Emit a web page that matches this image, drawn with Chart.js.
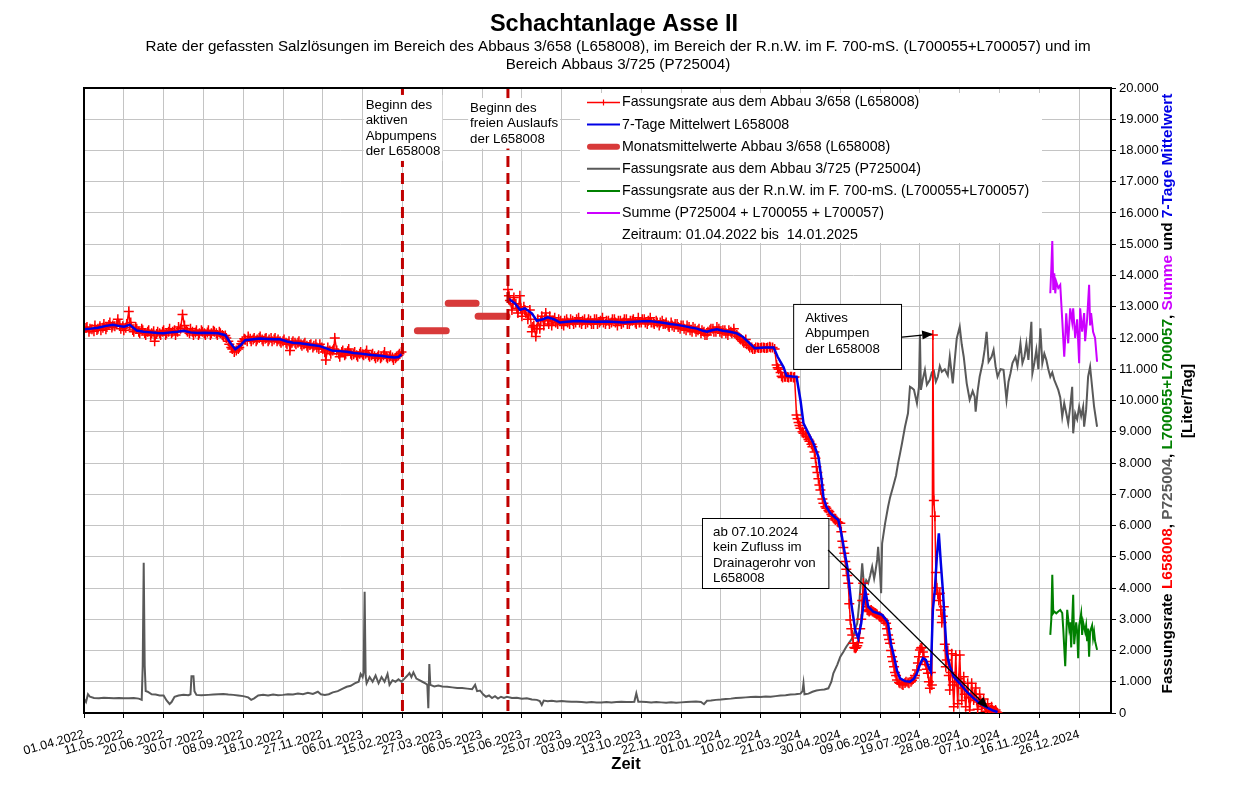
<!DOCTYPE html>
<html><head><meta charset="utf-8">
<script src="https://cdn.jsdelivr.net/npm/chart.js@4.4.1/dist/chart.umd.min.js"></script>
<style>html,body{margin:0;padding:0;background:#fff;}canvas{display:block;}</style>
</head><body>
<canvas id="c" width="1234" height="804"></canvas>
<script>
const FONT = '"Liberation Sans", Arial, sans-serif';

// x = days since 01.04.2022
const xTickLabels = ['01.04.2022','11.05.2022','20.06.2022','30.07.2022','08.09.2022','18.10.2022','27.11.2022','06.01.2023','15.02.2023','27.03.2023','06.05.2023','15.06.2023','25.07.2023','03.09.2023','13.10.2023','22.11.2023','01.01.2024','10.02.2024','21.03.2024','30.04.2024','09.06.2024','19.07.2024','28.08.2024','07.10.2024','16.11.2024','26.12.2024'];

// Fassungsrate L658008 (daily, sampled) [day, L/Tag]
const l658Part1 = [[0,12250],[2,12320],[3,12350],[5,12200],[6,12300],[8,12280],[10,12220],[11,12400],[13,12260],[14,12300],[16,12380],[17,12250],[19,12330],[20,12450],[22,12280],[23,12350],[25,12420],[26,12500],[28,12340],[29,12400],[31,12380],[33,12450],[34,12600],[36,12420],[37,12300],[39,12380],[40,12250],[42,12330],[43,12450],[45,12850],[46,12420],[47,12500],[49,12260],[50,12200],[52,12350],[53,12300],[55,12200],[56,12150],[58,12300],[59,12250],[61,12160],[62,12100],[64,12200],[65,12250],[67,12080],[68,12150],[70,12220],[71,11900],[73,12130],[74,12200],[76,12150],[77,12100],[79,12200],[80,12250],[82,12100],[83,12150],[85,12200],[86,12300],[88,12150],[89,12200],[91,12250],[92,12100],[94,12200],[95,12350],[97,12300],[99,12750],[101,12400],[103,12250],[104,12200],[106,12150],[107,12300],[109,12200],[110,12100],[112,12180],[113,12250],[115,12100],[116,12150],[118,12250],[119,12200],[121,12150],[122,12100],[124,12180],[125,12250],[127,12100],[128,12150],[130,12230],[131,12200],[133,12150],[134,12100],[136,12200],[137,12150],[139,12100],[140,12050],[142,12080],[143,12000],[145,11900],[146,11800],[148,11700],[149,11650],[151,11550],[153,11600],[155,11650],[156,11700],[158,11820],[159,11900],[161,11980],[162,11950],[164,11900],[165,12050],[167,11980],[168,11900],[170,11950],[171,12000],[173,11900],[174,11950],[176,12000],[177,12050],[179,11950],[180,11900],[182,11980],[183,12000],[185,11900],[186,11950],[188,12000],[189,11900],[191,11950],[192,12000],[194,11900],[195,11950],[197,11900],[198,11850],[200,11900],[201,11950],[203,11850],[204,11800],[206,11900],[207,11600],[209,11850],[210,11900],[212,11850],[213,11800],[215,11850],[216,11900],[218,11800],[219,11750],[221,11800],[222,11850],[224,11750],[225,11700],[227,11780],[228,11800],[230,11700],[231,11750],[233,11800],[234,11700],[236,11650],[237,11800],[239,11700],[240,11650],[242,11550],[243,11300],[245,11700],[247,11600],[248,11500],[250,11600],[251,11650],[252,12000],[254,11600],[256,11500],[257,11400],[259,11550],[260,11600],[262,11450],[263,11500],[265,11580],[266,11650],[268,11500],[269,11450],[271,11480],[272,11550],[274,11450],[275,11400],[277,11500],[278,11550],[280,11480],[281,11450],[283,11500],[284,11600],[286,11450],[287,11400],[289,11450],[290,11500],[292,11420],[293,11350],[295,11400],[296,11450],[298,11350],[299,11400],[301,11450],[302,11550],[304,11400],[305,11350],[307,11400],[308,11450],[310,11380],[311,11300],[313,11350],[314,11400],[316,11450],[317,11500],[319,11550]];
const l658Part2 = [[426,13550],[427,13350],[428,13200],[430,12900],[431,13100],[432,13300],[434,13100],[435,12950],[436,12800],[438,13350],[439,12950],[440,12700],[442,13000],[443,12900],[444,12800],[446,12600],[447,12750],[448,12900],[450,12200],[451,12350],[452,12400],[454,12050],[455,12300],[456,12600],[458,12300],[459,12550],[460,12700],[462,12400],[463,12600],[464,12800],[466,12550],[467,12450],[468,12700],[470,12400],[471,12550],[473,12650],[474,12500],[476,12450],[477,12600],[479,12550],[480,12450],[482,12400],[483,12550],[485,12600],[486,12500],[488,12450],[489,12600],[491,12550],[492,12450],[494,12500],[495,12600],[497,12650],[498,12500],[500,12450],[501,12550],[503,12600],[504,12450],[506,12500],[507,12600],[509,12550],[510,12450],[512,12450],[513,12600],[515,12600],[516,12450],[518,12500],[519,12550],[521,12650],[522,12500],[524,12450],[525,12550],[527,12550],[528,12450],[530,12500],[531,12600],[533,12600],[534,12500],[536,12400],[537,12550],[539,12550],[540,12450],[542,12500],[543,12600],[545,12600],[546,12450],[548,12450],[549,12550],[551,12550],[552,12600],[554,12500],[555,12450],[557,12650],[558,12500],[560,12500],[561,12600],[563,12600],[564,12500],[566,12450],[567,12550],[569,12650],[570,12500],[572,12500],[573,12450],[575,12550],[576,12500],[578,12400],[579,12500],[581,12550],[582,12450],[584,12450],[585,12500],[587,12400],[588,12350],[590,12500],[591,12400],[593,12350],[594,12450],[596,12450],[597,12350],[599,12300],[600,12400],[602,12400],[603,12300],[605,12250],[606,12400],[608,12350],[609,12250],[611,12200],[612,12350],[614,12300],[615,12200],[617,12250],[618,12300],[620,12150],[621,12250],[623,12200],[624,12100],[626,12100],[627,12200],[629,12250],[630,12300],[632,12300],[633,12200],[635,12200],[636,12350],[638,12300],[639,12200],[641,12150],[642,12250],[644,12250],[645,12150],[647,12100],[648,12250],[650,12200],[651,12150],[653,12300],[654,12150],[656,12100],[657,12050],[659,12000],[660,11950],[662,11900],[663,11850],[665,11950],[666,11800],[668,11750],[669,11700],[671,11700],[672,11650],[674,11650],[675,11700],[677,11700],[678,11680],[680,11680],[681,11700],[683,11700],[684,11680],[686,11680],[687,11700],[689,11720],[690,11700],[692,11700],[694,11650],[696,11140],[697,11050],[698,11000],[700,10900],[701,10780],[702,10740],[704,10760],[705,10760],[707,10750],[708,10740],[710,10760],[711,10760],[713,10740],[714,10750],[716,9540],[717,9420],[718,9300],[719,9200],[720,9110],[722,9000],[723,8950],[725,8900],[726,8840],[728,8750],[729,8700],[731,8600],[732,8520],[734,8350],[735,8150],[736,7880],[737,7700],[738,7500],[739,7300],[740,7140],[742,6850],[743,6710],[745,6600],[746,6550],[748,6480],[749,6440],[751,6350],[752,6300],[754,6220],[755,6180],[757,6120],[758,6100],[760,6070],[761,5800],[762,5500],[763,5300],[764,5110],[765,4850],[766,4600],[767,4400],[768,4150],[769,3500],[770,2980],[771,2700],[772,2500],[773,2230],[774,2100],[775,2070],[776,2100],[777,2150],[778,2250],[779,2400],[780,2700],[781,3000],[782,3600],[783,4150],[784,3800],[785,3600],[786,3400],[787,3300],[788,3280],[789,3250],[790,3280],[791,3300],[792,3260],[793,3240],[794,3220],[795,3200],[796,3180],[797,3150],[799,3100],[800,3080],[801,3050],[803,3000],[804,2950],[806,2870],[807,2700],[808,2500],[809,2350],[810,2230],[811,2000],[812,1800],[813,1650],[814,1480],[815,1300],[816,1200],[817,1060],[819,980],[820,950],[822,920],[823,900],[825,960],[826,1000],[828,980],[829,950],[831,1000],[832,1050],[834,1120],[835,1200],[837,1380],[838,1600],[839,1800],[840,2020],[841,2080],[842,2100],[843,1950],[844,1800],[845,1650],[846,1550],[847,1400],[848,1270],[849,1000],[850,790],[851,1300],[852,900],[853,12100],[854,6800],[855,6300],[856,4500],[857,4000],[858,3800],[859,3600],[860,3830],[861,3300],[862,2900],[863,3100],[864,3400],[865,2200],[866,1480],[867,1700],[868,2000],[869,1200],[870,740],[871,1300],[872,1900],[873,900],[874,200],[875,1000],[876,1850],[877,1000],[878,300],[879,1100],[880,1860],[881,1000],[882,400],[883,800],[884,1160],[885,600],[886,200],[887,600],[888,950],[889,500],[890,100],[891,500],[892,950],[893,600],[894,420],[895,600],[896,800],[897,400],[898,120],[899,350],[900,600],[901,400],[902,200],[903,300],[904,450],[905,250],[906,60],[907,150],[908,300],[909,150],[910,50],[911,100],[912,200],[913,100],[914,40],[915,60],[916,100],[917,30],[918,0]];

// 7-Tage Mittelwert L658008
const mean7Part1 = [[0,12280],[7,12300],[14,12330],[21,12380],[29,12420],[36,12380],[40,12360],[46,12420],[53,12240],[60,12200],[67,12180],[74,12160],[80,12150],[87,12180],[94,12200],[100,12230],[107,12180],[114,12160],[121,12170],[128,12160],[135,12150],[142,12090],[147,11850],[152,11640],[157,11760],[162,11930],[170,11960],[177,11980],[184,11970],[191,11960],[197,11960],[204,11890],[210,11850],[217,11830],[224,11800],[231,11770],[237,11740],[244,11660],[250,11590],[257,11580],[264,11560],[271,11520],[278,11500],[285,11470],[291,11450],[298,11430],[305,11400],[312,11380],[316,11390],[319,11480]];
const mean7Part2 = [[426,13270],[433,13110],[438,12900],[443,12950],[450,12790],[455,12550],[461,12600],[466,12660],[472,12600],[478,12500],[485,12520],[495,12540],[505,12530],[515,12520],[525,12530],[535,12510],[542,12500],[552,12520],[562,12540],[569,12540],[576,12510],[582,12490],[589,12450],[596,12420],[603,12380],[609,12340],[616,12300],[622,12230],[626,12200],[631,12250],[636,12280],[642,12230],[649,12200],[656,12150],[662,12040],[669,11830],[674,11670],[680,11690],[686,11700],[693,11700],[697,11400],[703,11060],[706,10790],[712,10770],[716,10760],[720,10000],[723,9270],[728,8950],[733,8630],[738,8200],[741,7500],[743,6920],[746,6600],[750,6390],[755,6250],[758,6180],[761,5750],[764,5200],[767,4680],[771,3510],[775,2650],[778,2390],[781,2870],[785,3940],[788,3400],[793,3240],[797,3200],[802,3140],[806,2980],[808,2870],[811,2200],[814,1800],[817,1350],[820,1110],[825,1020],[830,1000],[834,1100],[837,1270],[840,1550],[843,1750],[846,1700],[849,1450],[851,1320],[853,3300],[855,3940],[857,5000],[859,5750],[861,4800],[863,3940],[865,2900],[867,1910],[870,1500],[874,1160],[880,950],[887,680],[893,500],[900,310],[907,180],[914,70],[918,30]];

// Monatsmittelwerte Abbau 3/658 (März, April, Mai 2023)
const monthStart = [335, 366, 396];
const monthEnd = [364, 394, 425];
const monthMean = [12230, 13110, 12700];

// Fassungsrate P725004
const p725 = [[0,450],[2,350],[4,600],[6,520],[10,480],[15,470],[20,490],[25,480],[30,470],[35,480],[40,470],[45,470],[50,480],[55,460],[58,420],[59,1500],[60,4810],[61,1500],[62,700],[64,680],[68,600],[72,590],[76,560],[80,560],[83,400],[86,290],[88,350],[91,520],[95,560],[100,580],[105,570],[107,600],[108,1180],[110,1180],[111,700],[113,580],[118,570],[125,580],[130,590],[135,600],[140,610],[145,590],[150,580],[155,560],[160,540],[165,500],[168,420],[171,470],[175,560],[180,580],[185,560],[190,590],[195,570],[200,580],[205,600],[210,590],[215,620],[220,600],[225,650],[230,610],[235,680],[238,600],[242,580],[246,600],[250,660],[255,700],[260,780],[264,840],[268,870],[272,950],[276,1000],[278,1250],[280,1150],[281,1300],[282,3880],[283,1200],[284,950],[287,1150],[290,1000],[293,1200],[296,950],[299,1150],[302,1000],[305,1250],[307,900],[310,1050],[313,1000],[316,1080],[319,1000],[322,1100],[325,1200],[327,1280],[329,1150],[331,1300],[334,1100],[337,1050],[340,1000],[343,950],[345,900],[346,150],[347,1570],[348,900],[352,850],[356,880],[360,850],[365,840],[370,820],[375,800],[380,800],[385,780],[390,760],[393,900],[395,700],[398,720],[401,600],[404,520],[407,560],[410,480],[413,540],[416,460],[419,520],[422,480],[425,520],[430,480],[435,490],[440,460],[445,470],[450,430],[455,420],[458,380],[460,260],[462,400],[466,380],[470,390],[475,370],[480,380],[485,370],[490,360],[495,360],[500,350],[505,340],[510,350],[515,340],[520,340],[525,350],[530,340],[535,350],[540,360],[545,355],[550,350],[553,360],[555,630],[557,360],[560,360],[565,350],[570,340],[575,350],[580,340],[585,330],[590,340],[595,330],[600,340],[605,350],[610,360],[615,370],[620,350],[623,280],[626,390],[630,400],[635,420],[640,430],[645,450],[650,460],[655,480],[660,490],[665,500],[670,510],[675,520],[680,510],[685,530],[690,520],[695,540],[700,560],[705,570],[710,590],[715,600],[720,620],[722,700],[723,950],[724,600],[728,620],[732,680],[736,720],[740,740],[744,750],[748,790],[751,1000],[753,1270],[757,1550],[760,1800],[763,1950],[766,2120],[770,2300],[773,2440],[775,2700],[777,2870],[779,3500],[780,3940],[782,4790],[784,4000],[786,4250],[788,4150],[790,4400],[792,4680],[794,4300],[795,4470],[797,4900],[798,5320],[800,4400],[801,3830],[802,5430],[805,6070],[808,6600],[810,6900],[813,7240],[816,7600],[818,7990],[820,8300],[822,8630],[825,9160],[828,9590],[830,10440],[832,10400],[834,10340],[837,9910],[839,10440],[840,12100],[841,10340],[843,10700],[845,10980],[847,10500],[850,10660],[852,10900],[854,10950],[856,10600],[858,10760],[860,11100],[862,10920],[865,11000],[868,10800],[870,11400],[873,10550],[875,11300],[877,11990],[880,12360],[882,11800],[884,11400],[887,10550],[889,10200],[890,10020],[893,10300],[895,10120],[896,9640],[898,10300],[900,10760],[903,11200],[905,11620],[907,12200],[909,11240],[912,11400],[914,11620],[916,11100],[918,10760],[921,11000],[924,10980],[927,10020],[929,10600],[931,10870],[933,11200],[936,11400],[938,11100],[941,11830],[943,11200],[945,11400],[947,11830],[949,11300],[952,12520],[953,10870],[955,11200],[957,11620],[959,11000],[961,12310],[963,11190],[965,11500],[967,11300],[969,11000],[971,10760],[973,10900],[975,10660],[977,10500],[979,10340],[981,10100],[983,9480],[985,9910],[987,9600],[989,9270],[991,9800],[993,10440],[994,8950],[996,9590],[998,9400],[1000,9800],[1002,9500],[1004,9800],[1005,9160],[1007,9700],[1009,10760],[1011,11080],[1013,10440],[1015,9800],[1018,9160]];

// Fassungsrate L700055+L700057
const l700 = [[971,2500],[972,3000],[973,4420],[974,3200],[975,3250],[977,3190],[979,3250],[981,3300],[983,3200],[984,2700],[986,1500],[987,2400],[988,3300],[990,2700],[991,2900],[992,2100],[994,3780],[995,2200],[997,2900],[998,2600],[999,1750],[1000,2800],[1002,3190],[1003,2500],[1004,2900],[1006,2600],[1007,2800],[1008,2300],[1009,2700],[1010,1800],[1011,2600],[1013,2800],[1014,2400],[1015,2600],[1016,2300],[1018,2020]];

// Summe (P725004 + L700055 + L700057)
const summe = [[971,13430],[972,14200],[973,15100],[974,13540],[975,14070],[976,13430],[977,13800],[979,13600],[981,13700],[983,12580],[985,11400],[986,12000],[987,12790],[989,11830],[991,12950],[993,12500],[994,12950],[996,12000],[998,12600],[1000,11190],[1001,12950],[1003,12200],[1005,12800],[1006,11900],[1008,12600],[1010,13700],[1011,12400],[1012,12800],[1014,12200],[1016,12000],[1018,11240]];

// Events (vertical dashed lines)
const eventDays = [320, 426];

const pts = a => a.map(([x, y]) => ({x, y}));
const joinSeg = (...segs) => {
  const out = [];
  segs.forEach((s, i) => { if (i > 0) out.push({x: (out[out.length-1].x + s[0][0]) / 2, y: null}); out.push(...pts(s)); });
  return out;
};
const monthly = [];
monthMean.forEach((v, i) => {
  if (i > 0) monthly.push({x: monthStart[i] - 0.5, y: null});
  monthly.push({x: monthStart[i], y: v}, {x: monthEnd[i], y: v});
});

const fmt = v => String(v).replace(/\B(?=(\d{3})+(?!\d))/g, '.');

const C = {red: '#ff0000', blue: '#0000e6', month: '#d83a3a', gray: '#595959', green: '#008000', mag: '#cc00ff', ev: '#c00000'};

const annotations = [
  {lines: ['Beginn des', 'aktiven', 'Abpumpens', 'der L658008'], d: 283, v: 19650, box: false},
  {lines: ['Beginn des', 'freien Auslaufs', 'der L658008'], d: 388, v: 19550, box: false},
  {lines: ['Aktives', 'Abpumpen', 'der L658008'], d: 712.6, v: 13090, d2: 821, v2: 11010, box: true,
   arrow: {d0: 822, v0: 12030, d1: 853.3, v1: 12130}},
  {lines: ['ab 07.10.2024', 'kein Zufluss im', 'Drainagerohr von', 'L658008'], d: 621, v: 6240, d2: 748, v2: 4000, box: true,
   arrow: {d0: 747.7, v0: 5216, d1: 908.5, v1: 160}}
];

const legendItems = [
  {t: 'Fassungsrate aus dem Abbau 3/658 (L658008)', c: C.red, w: 1.5, cross: true},
  {t: '7-Tage Mittelwert L658008', c: C.blue, w: 2},
  {t: 'Monatsmittelwerte Abbau 3/658 (L658008)', c: C.month, w: 6, round: true},
  {t: 'Fassungsrate aus dem Abbau 3/725 (P725004)', c: C.gray, w: 2},
  {t: 'Fassungsrate aus der R.n.W. im F. 700-mS. (L700055+L700057)', c: C.green, w: 2},
  {t: 'Summe (P725004 + L700055 + L700057)', c: C.mag, w: 2},
  {t: 'Zeitraum: 01.04.2022 bis  14.01.2025', c: null}
];

function arrow(ctx, x0, y0, x1, y1) {
  ctx.save();
  ctx.strokeStyle = '#000'; ctx.fillStyle = '#000'; ctx.lineWidth = 1.2;
  const a = Math.atan2(y1 - y0, x1 - x0), L = 11, W = 4.5;
  const bx = x1 - L * Math.cos(a), by = y1 - L * Math.sin(a);
  ctx.beginPath(); ctx.moveTo(x0, y0); ctx.lineTo(bx, by); ctx.stroke();
  ctx.beginPath(); ctx.moveTo(x1, y1);
  ctx.lineTo(bx + W * Math.sin(a), by - W * Math.cos(a));
  ctx.lineTo(bx - W * Math.sin(a), by + W * Math.cos(a));
  ctx.closePath(); ctx.fill();
  ctx.restore();
}

const decor = {
  id: 'decor',
  beforeDraw(chart) {
    const ctx = chart.ctx; ctx.save(); ctx.fillStyle = '#fff'; ctx.fillRect(0, 0, chart.width, chart.height); ctx.restore();
  },
  afterDatasetsDraw(chart) {
    const ctx = chart.ctx, xs = chart.scales.x, ys = chart.scales.y, ca = chart.chartArea;
    ctx.save();
    // event lines
    ctx.strokeStyle = C.ev; ctx.lineWidth = 3; ctx.setLineDash([11, 6]);
    eventDays.forEach(d => { const x = xs.getPixelForValue(d); ctx.beginPath(); ctx.moveTo(x, ca.top); ctx.lineTo(x, ca.bottom); ctx.stroke(); });
    ctx.setLineDash([]);
    // annotations
    ctx.font = '13.3px ' + FONT; ctx.textBaseline = 'middle'; ctx.textAlign = 'left';
    annotations.forEach(a => {
      const x = xs.getPixelForValue(a.d), y = ys.getPixelForValue(a.v);
      const lh = 15.5;
      if (a.box) {
        const x2 = xs.getPixelForValue(a.d2), y2 = ys.getPixelForValue(a.v2);
        ctx.fillStyle = '#fff'; ctx.fillRect(x, y, x2 - x, y2 - y);
        ctx.strokeStyle = '#000'; ctx.lineWidth = 1; ctx.strokeRect(x + 0.5, y + 0.5, x2 - x, y2 - y);
        ctx.fillStyle = '#000';
        const pad = a.lines.length === 3 ? 12 : 11;
        a.lines.forEach((l, i) => ctx.fillText(l, x + pad, y + 14 + i * lh));
        const ar = a.arrow;
        arrow(ctx, xs.getPixelForValue(ar.d0), ys.getPixelForValue(ar.v0), xs.getPixelForValue(ar.d1), ys.getPixelForValue(ar.v1));
      } else {
        let w = 0; a.lines.forEach(l => w = Math.max(w, ctx.measureText(l).width));
        ctx.fillStyle = '#fff'; ctx.fillRect(x - 2, y - 4, w + 4, a.lines.length * lh + 4);
        ctx.fillStyle = '#000';
        a.lines.forEach((l, i) => ctx.fillText(l, x, y + 6 + i * lh));
      }
    });
    // legend
    const lx = ca.left + 496, ly = ca.top + 5;
    ctx.fillStyle = '#fff'; ctx.fillRect(lx, ly, 462, 150);
    ctx.font = '14.2px ' + FONT;
    legendItems.forEach((it, i) => {
      const y = ly + 9.5 + i * 22.1;
      if (it.c) {
        ctx.strokeStyle = it.c; ctx.lineWidth = it.w; ctx.lineCap = it.round ? 'round' : 'butt';
        ctx.beginPath(); ctx.moveTo(lx + 7 + (it.round ? 3 : 0), y); ctx.lineTo(lx + 40 - (it.round ? 3 : 0), y); ctx.stroke();
        if (it.cross) { ctx.lineWidth = 1.2; ctx.beginPath(); ctx.moveTo(lx + 23.5, y - 3); ctx.lineTo(lx + 23.5, y + 3); ctx.stroke(); }
      }
      ctx.fillStyle = '#000'; ctx.fillText(it.t, lx + 42, y);
    });
    ctx.restore();
  },
  afterDraw(chart) {
    const ctx = chart.ctx, ca = chart.chartArea;
    ctx.save();
    ctx.strokeStyle = '#000'; ctx.lineWidth = 2;
    ctx.beginPath(); ctx.moveTo(ca.left, ca.bottom); ctx.lineTo(ca.left, ca.top); ctx.lineTo(ca.right, ca.top); ctx.stroke();
    ctx.fillStyle = '#000'; ctx.textAlign = 'center'; ctx.textBaseline = 'middle';
    ctx.font = 'bold 23.5px ' + FONT; ctx.fillText('Schachtanlage Asse II', 614, 25);
    ctx.font = '15.2px ' + FONT;
    ctx.fillText('Rate der gefassten Salzlösungen im Bereich des Abbaus 3/658 (L658008), im Bereich der R.n.W. im F. 700-mS. (L700055+L700057) und im', 618, 46.5);
    ctx.fillText('Bereich Abbaus 3/725 (P725004)', 618, 64.5);
    ctx.font = 'bold 16.5px ' + FONT; ctx.fillText('Zeit', 626, 764);
    // right axis title
    const parts = [['Fassungsrate ', '#000'], ['L658008', C.red], [', ', '#000'], ['P725004', C.gray], [', ', '#000'], ['L700055+L700057', C.green], [', ', '#000'], ['Summe', C.mag], [' und ', '#000'], ['7-Tage Mittelwert', C.blue]];
    ctx.font = 'bold 15.4px ' + FONT;
    const W = parts.reduce((s, p) => s + ctx.measureText(p[0]).width, 0);
    ctx.save(); ctx.translate(ca.right + 57, 393.5); ctx.rotate(-Math.PI / 2);
    ctx.textAlign = 'left'; let x = -W / 2;
    parts.forEach(p => { ctx.fillStyle = p[1]; ctx.fillText(p[0], x, 0); x += ctx.measureText(p[0]).width; });
    ctx.restore();
    ctx.save(); ctx.translate(ca.right + 77, 401); ctx.rotate(-Math.PI / 2);
    ctx.fillStyle = '#000'; ctx.textAlign = 'center'; ctx.fillText('[Liter/Tag]', 0, 0);
    ctx.restore();
    ctx.restore();
  }
};

new Chart(document.getElementById('c'), {
  type: 'line',
  data: {
    datasets: [
      {label: '7-Tage Mittelwert L658008', data: joinSeg(mean7Part1, mean7Part2), borderColor: C.blue, borderWidth: 2.5, pointRadius: 0, order: 0},
      {label: 'Fassungsrate aus dem Abbau 3/658 (L658008)', data: joinSeg(l658Part1, l658Part2), borderColor: C.red, borderWidth: 1.5,
       pointStyle: 'cross', pointRadius: 5, pointBorderColor: C.red, pointBorderWidth: 1.5, order: 1},
      {label: 'Monatsmittelwerte Abbau 3/658 (L658008)', data: monthly, borderColor: C.month, borderWidth: 7, borderCapStyle: 'round', pointRadius: 0, order: 2},
      {label: 'Summe (P725004 + L700055 + L700057)', data: pts(summe), borderColor: C.mag, borderWidth: 2, pointRadius: 0, order: 3},
      {label: 'Fassungsrate aus der R.n.W. im F. 700-mS. (L700055+L700057)', data: pts(l700), borderColor: C.green, borderWidth: 2, pointRadius: 0, order: 3},
      {label: 'Fassungsrate aus dem Abbau 3/725 (P725004)', data: pts(p725), borderColor: C.gray, borderWidth: 2, pointRadius: 0, order: 4}
    ]
  },
  options: {
    responsive: false, animation: false, events: [],
    spanGaps: false,
    layout: {padding: {left: 84, top: 88, right: 0, bottom: 0}},
    plugins: {legend: {display: false}, tooltip: {enabled: false}, title: {display: false}},
    elements: {line: {tension: 0}},
    scales: {
      x: {
        type: 'linear', min: 0, max: 1032,
        afterFit: s => { s.height = 91; },
        grid: {color: '#c4c4c4', lineWidth: 1, tickColor: '#000', tickLength: 5},
        border: {color: '#000', width: 2},
        ticks: {stepSize: 40, includeBounds: false, minRotation: 16, maxRotation: 16, autoSkip: false, padding: 9,
                color: '#000', font: {family: FONT, size: 12.5},
                callback: v => xTickLabels[Math.round(v / 40)] || ''}
      },
      y: {
        type: 'linear', position: 'right', min: 0, max: 20000,
        afterFit: s => { s.width = 123; },
        grid: {color: '#c4c4c4', lineWidth: 1, tickColor: '#000', tickLength: 5},
        border: {color: '#000', width: 2},
        ticks: {stepSize: 1000, includeBounds: false, padding: 3, color: '#000', font: {family: FONT, size: 13}, callback: v => fmt(v)}
      }
    }
  },
  plugins: [decor]
});
</script>
</body></html>
